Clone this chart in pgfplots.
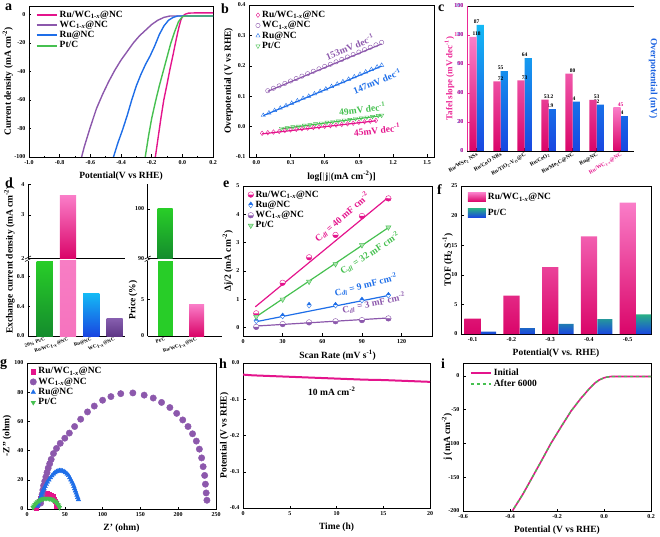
\documentclass[border=0pt]{standalone}
\usepackage{pgfplots}
\pgfplotsset{compat=1.18}
\usepackage{fontspec}
\setmainfont{Liberation Serif}
\usetikzlibrary{plotmarks}
\definecolor{mag}{RGB}{228,20,140}
\definecolor{purp}{RGB}{140,88,172}
\definecolor{blu}{RGB}{30,110,232}
\definecolor{grn}{RGB}{70,192,80}
\definecolor{pinkL}{RGB}{250,125,200}
\definecolor{pinkD}{RGB}{218,5,105}
\definecolor{pinkM}{RGB}{246,115,190}
\definecolor{cyanL}{RGB}{20,185,245}
\definecolor{blueD}{RGB}{25,70,225}
\definecolor{greenL}{RGB}{40,205,40}
\definecolor{greenD}{RGB}{20,140,45}
\definecolor{tealL}{RGB}{40,175,135}
\definecolor{purpL}{RGB}{135,95,175}
\definecolor{purpD}{RGB}{95,55,135}
\definecolor{cpink}{RGB}{235,40,150}
\definecolor{cblue}{RGB}{30,100,225}
\newcommand{\WC}{WC\textsubscript{1-\textit{x}}@NC}
\newcommand{\tl}{\bfseries\fontsize{6}{7}\selectfont}
\newcommand{\lb}{\bfseries\fontsize{9.5}{11}\selectfont}
\newcommand{\lgf}{\bfseries\fontsize{9.5}{10.5}\selectfont}
\pgfplotsset{
 base/.style={scale only axis, anchor=north west,
  axis line style={line width=0.7pt}, tick style={line width=0.5pt, black},
  tick align=inside, major tick length=2.5pt, minor tick length=1.4pt,
  /pgf/number format/assume math mode=true,
  tick label style={font=\tl},
  label style={font=\lb},
  xtick pos=bottom, ytick pos=left,
  legend cell align=left,
  legend style={draw=none, fill=none, font=\lgf, row sep=-1.5pt, inner sep=1pt},
 },
 oned/.style={/pgf/number format/.cd, fixed, fixed zerofill, precision=1},
 ylab/.style={ylabel style={at={(axis description cs:#1,0.5)}, anchor=center}},
}
\begin{document}
\begin{tikzpicture}
\path[use as bounding box] (0pt,0pt) rectangle (660pt,536pt);
% ---------------- a
\begin{axis}[base, at={(29pt,530pt)}, width=184pt, height=151pt,
 xmin=-1, xmax=0.2, ymin=-100, ymax=6,
 xtick={-1,-0.8,-0.6,-0.4,-0.2,0,0.2}, ytick={-100,-80,-60,-40,-20,0},
 xticklabel style={oned}, minor x tick num=1, minor y tick num=1,
 xlabel={Potential(V vs RHE)}, ylabel={Current density (mA cm\textsuperscript{-2})},
 ylab=-0.115,
 legend style={at={(0.03,0.99)}, anchor=north west},
 legend image code/.code={\draw[#1, line width=2pt] (0pt,0pt) -- (20pt,0pt);},
 every axis plot/.append style={line width=1.4pt}]
\addplot[mag] coordinates {(0.2,1.2)(0.1,1.2)(0.04,1)(0.02,0.3)(0.01,-0.5)(0,-1.5)(-0.01,-4)(-0.02,-8)(-0.03,-12.5)(-0.045,-20)(-0.06,-28)(-0.08,-38)(-0.10,-49)(-0.121,-60)(-0.14,-73)(-0.16,-88)(-0.176,-100)};
\addlegendentry{Ru/\WC}
\addplot[purp] coordinates {(0.2,-1)(-0.08,-1)(-0.12,-2)(-0.16,-4)(-0.20,-7)(-0.24,-11)(-0.28,-15)(-0.32,-20)(-0.36,-26)(-0.40,-32)(-0.44,-39)(-0.48,-47)(-0.52,-56)(-0.56,-66)(-0.60,-79)(-0.64,-93)(-0.657,-100)};
\addlegendentry{\WC}
\addplot[blu] coordinates {(0.2,-1)(-0.03,-1)(-0.06,-2)(-0.09,-4)(-0.12,-8)(-0.15,-14)(-0.18,-22)(-0.21,-29)(-0.24,-35)(-0.27,-42)(-0.30,-50)(-0.33,-60)(-0.36,-71)(-0.39,-81)(-0.42,-90)(-0.449,-100)};
\addlegendentry{Ru@NC}
\addplot[grn] coordinates {(0.2,-1)(0.02,-1)(0,-1.5)(-0.025,-5)(-0.05,-12)(-0.075,-20)(-0.10,-30)(-0.125,-40)(-0.15,-50)(-0.175,-61)(-0.20,-73)(-0.22,-85)(-0.242,-100)};
\addlegendentry{Pt/C}
\end{axis}
% ---------------- b
\begin{axis}[base, at={(249pt,531pt)}, width=185pt, height=152pt,
 xmin=-0.065, xmax=1.56, ymin=-0.1, ymax=0.4,
 xtick={0,0.3,0.6,0.9,1.2,1.5}, ytick={-0.1,0,0.1,0.2,0.3,0.4},
 xticklabel style={oned}, yticklabel style={oned},
 xlabel={log[$|$j$|$(mA cm\textsuperscript{-2})]}, ylabel={Overpotential (V vs RHE)},
 ylab=-0.11,
 legend style={at={(0.03,0.98)}, anchor=north west}]
\addplot[only marks, mark=diamond, mag, mark size=2.3pt] coordinates {(0.05,-0.022)(0.10,-0.020)(0.15,-0.018)(0.20,-0.016)(0.25,-0.013)(0.30,-0.011)(0.35,-0.009)(0.40,-0.007)(0.45,-0.005)(0.50,-0.003)(0.55,-0.001)(0.60,0.001)(0.65,0.003)(0.70,0.005)(0.75,0.007)(0.80,0.009)(0.85,0.011)(0.90,0.014)(0.95,0.016)(1.00,0.018)(1.05,0.020)};
\addlegendentry{Ru/\WC}
\addplot[only marks, mark=o, purp, mark size=2.2pt] coordinates {(0.10,0.118)(0.15,0.126)(0.20,0.134)(0.25,0.142)(0.30,0.150)(0.35,0.158)(0.40,0.166)(0.45,0.174)(0.50,0.182)(0.55,0.190)(0.60,0.198)(0.65,0.205)(0.70,0.213)(0.75,0.221)(0.80,0.229)(0.85,0.237)(0.90,0.245)(0.95,0.253)(1.00,0.261)(1.05,0.269)(1.10,0.277)};
\addlegendentry{\WC}
\addplot[only marks, mark=triangle, blu, mark size=2.4pt] coordinates {(0.06,0.037)(0.11,0.045)(0.16,0.053)(0.21,0.061)(0.26,0.069)(0.31,0.077)(0.36,0.085)(0.41,0.093)(0.46,0.100)(0.51,0.108)(0.56,0.116)(0.61,0.124)(0.66,0.132)(0.71,0.140)(0.76,0.148)(0.81,0.156)(0.86,0.164)(0.91,0.172)(0.96,0.180)(1.01,0.188)(1.06,0.196)(1.10,0.202)};
\addlegendentry{Ru@NC}
\addplot[only marks, mark=triangle, mark options={rotate=180}, grn, mark size=2.4pt] coordinates {(0.22,-0.006)(0.27,-0.004)(0.32,-0.001)(0.37,0.001)(0.42,0.004)(0.47,0.006)(0.52,0.009)(0.57,0.011)(0.62,0.014)(0.67,0.016)(0.72,0.018)(0.77,0.021)(0.82,0.023)(0.87,0.026)(0.92,0.028)(0.97,0.031)(1.02,0.033)(1.07,0.036)(1.10,0.037)};
\addlegendentry{Pt/C}
\addplot[mag, line width=1.2pt, forget plot] coordinates {(0.05,-0.024)(1.05,0.019)};
\addplot[purp, line width=1.2pt, forget plot] coordinates {(0.10,0.116)(1.10,0.272)};
\addplot[blu, line width=1.2pt, forget plot] coordinates {(0.06,0.036)(1.10,0.199)};
\addplot[grn, line width=1.2pt, forget plot] coordinates {(0.22,-0.007)(1.10,0.036)};
\node[purp, rotate=22, font=\lgf] at (axis cs:0.82,0.262) {153mV dec\textsuperscript{-1}};
\node[blu, rotate=22, font=\lgf] at (axis cs:1.06,0.150) {147mV dec\textsuperscript{-1}};
\node[grn, rotate=7, font=\lgf] at (axis cs:0.93,0.058) {49mV dec\textsuperscript{-1}};
\node[mag, rotate=6, font=\lgf] at (axis cs:1.06,-0.010) {45mV dec\textsuperscript{-1}};
\end{axis}
% ---------------- c (right axis first, so the left-axis labels lie on top)
\begin{axis}[base, at={(467pt,530pt)}, width=167pt, height=145pt,
 xmin=-0.4, xmax=6.56, ymin=0, ymax=100, ytick={0,20,40,60,80,100},
 axis x line=none, axis y line*=right, y axis line style={cblue}, yticklabel style={cblue},
 ytick style={cblue},
 ylabel style={cblue, at={(axis description cs:1.115,0.5)}, rotate=180, anchor=center}, ylabel={Overpotential (mV)}]
\addplot[ybar, bar width=0.3, bar shift=0.15, draw=none, top color=cyanL, bottom color=blueD,
 nodes near coords, point meta=explicit symbolic, every node near coord/.append style={font=\bfseries\fontsize{5.5}{6}\selectfont, text=black, inner sep=1pt}]
 coordinates {(0,87)[87] (1,55)[55] (2,64)[64] (3,28.9)[28.9] (4,34)[34] (5,32)[32] (6,24)[24]};
\end{axis}
\begin{axis}[base, at={(467pt,530pt)}, width=167pt, height=145pt,
 xmin=-0.4, xmax=6.56, ymin=0, ymax=150, ytick={0,30,60,90,120,150},
 axis x line*=box, axis y line*=left,
 xtick={0,...,6},
 xticklabels={Ru/WSe\textsubscript{2} NSs, Ru/CoO NRs, Ru/TiO\textsubscript{2}-V\textsubscript{O}@C, Ru/CeO\textsubscript{2}, Ru/Mo\textsubscript{2}C@NC, Ru@NC, {\color{mag}Ru/\WC}},
 xticklabel style={rotate=30, anchor=north east, font=\bfseries\fontsize{5.5}{6}\selectfont, inner sep=1pt},
 y axis line style={cpink}, yticklabel style={cpink},
 ylabel style={cpink, font=\bfseries\fontsize{9}{10}\selectfont, at={(axis description cs:-0.105,0.5)}, anchor=center},
 ytick style={cpink},
 ylabel={Tafel slope (mV dec\textsuperscript{-1})}]
\addplot[ybar, bar width=0.3, bar shift=-0.15, draw=none, top color=pinkL, bottom color=pinkD,
 nodes near coords, point meta=explicit symbolic, every node near coord/.append style={font=\bfseries\fontsize{5.5}{6}\selectfont, text=black, inner sep=1pt}]
 coordinates {(0,118)[118] (1,72)[72] (2,73)[73] (3,53.2)[53.2] (4,80)[80] (5,53)[53]};
\addplot[ybar, bar width=0.3, bar shift=-0.15, draw=none, top color=pinkL, bottom color=pinkD,
 nodes near coords, point meta=explicit symbolic, every node near coord/.append style={font=\bfseries\fontsize{5.5}{6}\selectfont, text=mag, inner sep=1pt}]
 coordinates {(6,45)[45]};
\end{axis}
% ---------------- d (left, lower)
\begin{axis}[base, at={(28pt,275pt)}, width=97pt, height=75pt,
 axis x line*=bottom, axis y line*=left,
 xmin=-0.72, xmax=3.45, ymin=0, ymax=1.01, ytick={0,0.4,0.8}, yticklabel style={oned},
 xtick={0,1,2,3}, xticklabels={20\% Pt/C, Ru/\WC, Ru@NC, \WC},
 xticklabel style={rotate=20, anchor=north east, font=\bfseries\fontsize{5}{5.5}\selectfont, inner sep=1pt},
 x tick style={draw=none}]
\addplot[ybar, bar width=0.69, bar shift=0, draw=none, top color=greenL, bottom color=greenD] coordinates {(0,1.0)};
\addplot[ybar, bar width=0.69, bar shift=0, draw=none, top color=pinkL!80, bottom color=pinkM] coordinates {(1,3.6)};
\addplot[ybar, bar width=0.69, bar shift=0, draw=none, top color=cyanL, bottom color=blueD] coordinates {(2,0.57)};
\addplot[ybar, bar width=0.69, bar shift=0, draw=none, top color=purpL, bottom color=purpD] coordinates {(3,0.24)};
\end{axis}
% d (left, upper): log-scaled segment 2..4
\begin{axis}[base, at={(28pt,351.7pt)}, width=97pt, height=74pt,
 axis x line*=top, axis y line*=left, xtick=\empty,
 xmin=-0.72, xmax=3.45, ymin=0.30103, ymax=0.60206, ytick={0.30103,0.47712,0.60206}, yticklabels={2,3,4},
 y filter/.expression={log10(y)}]
\addplot[ybar, bar width=0.69, bar shift=0, draw=none, top color=pinkL, bottom color=pinkD] coordinates {(1,3.6)};
\end{axis}
% d (right, lower)
\begin{axis}[base, at={(147.7pt,275pt)}, width=74pt, height=75pt,
 axis x line*=bottom, axis y line*=left,
 xmin=-0.555, xmax=1.8, ymin=0, ymax=10.2, ytick={0,5},
 xtick={0,1}, xticklabels={Pt/C, Ru/\WC},
 xticklabel style={rotate=20, anchor=north east, font=\bfseries\fontsize{5}{5.5}\selectfont, inner sep=1pt},
 x tick style={draw=none}]
\addplot[ybar, bar width=0.48, bar shift=0, draw=none, fill=greenL] coordinates {(0,100)};
\addplot[ybar, bar width=0.48, bar shift=0, draw=none, top color=pinkL, bottom color=pinkD] coordinates {(1,4.3)};
\end{axis}
% d (right, upper)
\begin{axis}[base, at={(147.7pt,351.7pt)}, width=74pt, height=74pt,
 axis x line*=top, axis y line*=left, xtick=\empty,
 xmin=-0.555, xmax=1.8, ymin=0, ymax=15, ytick={0,10}, yticklabels={90,100},
 y filter/.expression={y-90}]
\addplot[ybar, bar width=0.48, bar shift=0, draw=none, top color=greenL, bottom color=greenD] coordinates {(0,100)};
\end{axis}
\draw[line width=0.6pt] (25pt,274.5pt)--(31pt,277.5pt) (25pt,277pt)--(31pt,280pt);
\draw[line width=0.6pt] (144.7pt,274.5pt)--(150.7pt,277.5pt) (144.7pt,277pt)--(150.7pt,280pt);
\node[rotate=90, font=\lb] at (9.5pt,276pt) {Exchange current density (mA cm\textsuperscript{-2})};
\node[rotate=90, font=\lb] at (133pt,236pt) {Price (\%)};
% ---------------- e
\begin{axis}[base, at={(243pt,350pt)}, width=189pt, height=150pt,
 xmin=0, xmax=143, ymin=-0.3, ymax=5, xtick={0,30,60,90,120}, ytick={0,1,2,3,4,5},
 xlabel={Scan Rate (mV s\textsuperscript{-1})}, ylabel={Δj/2 (mA cm\textsuperscript{-2})},
 ylab=-0.08,
 legend style={at={(0.02,0.99)}, anchor=north west}]
\addplot[only marks, mark=halfcircle*, mark size=2.8pt, mark options={draw=mag, fill=white}, mark color=mag] coordinates {(10,0.5)(30,1.58)(50,2.48)(70,3.27)(90,3.94)(110,4.56)};
\addlegendentry{Ru/\WC}
\addplot[only marks, mark=halfdiamond*, mark size=3pt, mark options={draw=blu, fill=white}, mark color=blu] coordinates {(10,0.24)(30,0.41)(50,0.79)(70,0.79)(90,0.97)(110,1.14)};
\addlegendentry{Ru@NC}
\addplot[only marks, mark=halfcircle*, mark size=2.8pt, mark options={draw=purp, fill=white}, mark color=purp] coordinates {(10,0.02)(30,0.12)(50,0.18)(70,0.22)(90,0.26)(110,0.32)};
\addlegendentry{\WC}
\addplot[only marks, mark=triangle*, mark size=3pt, mark options={rotate=180, draw=grn, fill=grn!45}] coordinates {(10,0.38)(30,0.99)(50,1.62)(70,2.24)(90,2.91)(110,3.54)};
\addlegendentry{Pt/C}
\addplot[mag, line width=1.2pt, forget plot] coordinates {(9.3,0.73)(111,4.64)};
\addplot[grn, line width=1.2pt, forget plot] coordinates {(9.3,0.36)(111,3.56)};
\addplot[blu, line width=1.2pt, forget plot] coordinates {(9.3,0.2)(111,1.14)};
\addplot[purp, line width=1.2pt, forget plot] coordinates {(9.3,0.05)(111,0.34)};
\node[mag, rotate=41, font=\lgf] at (axis cs:75,3.9) {C\textsubscript{\textit{dl}} = 40 mF cm\textsuperscript{-2}};
\node[grn, rotate=33, font=\lgf] at (axis cs:96,2.62) {C\textsubscript{\textit{dl}} = 32 mF cm\textsuperscript{-2}};
\node[blu, rotate=14, font=\lgf] at (axis cs:93,1.5) {C\textsubscript{\textit{dl}} = 9 mF cm\textsuperscript{-2}};
\node[purp, rotate=12, font=\lgf] at (axis cs:99,0.86) {C\textsubscript{\textit{dl}} = 3 mF cm\textsuperscript{-2}};
\end{axis}
% ---------------- f
\begin{axis}[base, at={(461pt,350pt)}, width=190pt, height=148pt,
 xmin=-0.3, xmax=4.6, ymin=0, ymax=25, ytick={0,5,10,15,20,25},
 xtick={0,...,4}, xticklabels={-0.1,-0.2,-0.3,-0.4,-0.5},
 xlabel={Potential(V vs. RHE)}, ylabel={TOF (H\textsubscript{2} S\textsuperscript{-1})},
 ylab=-0.07,
 legend style={at={(0.03,0.97)}, anchor=north west, row sep=4pt},
 legend image code/.code={\fill[#1] (0pt,-4pt) rectangle (18pt,5pt);}]
\addplot[ybar, bar width=0.42, bar shift=0, draw=none, top color=pinkL, bottom color=pinkD] coordinates {(0,2.6)(1,6.5)(2,11.3)(3,16.5)(4,22.2)};
\addlegendentry{Ru/\WC}
\addplot[ybar, bar width=0.39, bar shift=0.41, draw=none, top color=tealL, bottom color=blueD] coordinates {(0,0.4)(1,1.0)(2,1.7)(3,2.5)(4,3.3)};
\addlegendentry{Pt/C}
\end{axis}
% ---------------- g
\begin{axis}[base, at={(27pt,173pt)}, width=189pt, height=146pt,
 xmin=0, xmax=250, ymin=0, ymax=100, xtick={0,50,100,150,200,250}, ytick={0,20,40,60,80,100},
 xlabel={Z' (ohm)}, ylabel={-Z'' (ohm)},
 ylab=-0.105,
 legend style={at={(0.01,0.99)}, anchor=north west}]
\addplot[only marks, mark=square*, mark size=2.2pt, mag] coordinates {(12,1)(13,2.5)(14.5,4)(16,5.5)(18,7)(20,8.2)(22,9.2)(24.5,10)(27,10.4)(29.5,10.2)(32,9.5)(34,8.3)(36,6.8)(37.5,5.2)(38.5,3.6)(39.5,2)};
\addlegendentry{Ru/\WC}
\addplot[only marks, mark=*, mark size=3.2pt, purp] coordinates {(18,4)(19,7)(20,10)(21,13)(22,16)(23.5,19)(25,22)(26.5,25)(28,28)(30,31)(32,34)(35,38)(39,41.5)(44,45)(50,48.5)(56,52)(63,56.5)(71,61.5)(80,66.5)(89,70.5)(100,74.5)(111,77)(124,79)(140,79.5)(155,78)(167,76)(178,73)(189,69.5)(198,65.5)(206,61)(213,56.5)(219,51.5)(224,46.5)(228,41)(231,35)(233,29)(235,23)(236,17)(237,11)(238,6)};
\addlegendentry{\WC}
\addplot[only marks, mark=triangle*, mark size=2.6pt, blu] coordinates {(14,2)(15,3.5)(16,5)(17,6.5)(18,8)(19,9.5)(20,11)(21,12.5)(22.5,14)(24,15.5)(25.5,17)(27,18.5)(29,20)(31,21.5)(33,22.8)(35,24)(37,25)(39,25.6)(41,26)(43,26.3)(45,26.3)(47,26)(49,25.6)(51,25)(53,24)(55,23)(56.5,21.5)(58,20)(59.5,18.5)(61,17)(62,15.5)(63,14)(64,12.5)(65,11)(66,9.5)(67,8)(68,6.5)};
\addlegendentry{Ru@NC}
\addplot[only marks, mark=triangle*, mark size=2.6pt, mark options={rotate=180}, grn] coordinates {(8,1)(9,2)(10.5,3)(12,4)(14,4.8)(16,5.6)(18,6.2)(20,6.7)(22,7)(24,7.2)(26,7.3)(28,7.2)(30,7)(32,6.7)(34,6.2)(36,5.6)(38,4.8)(39.5,4)(41,3)(42,2)(43,1)};
\addlegendentry{Pt/C}
\end{axis}
% ---------------- h
\begin{axis}[base, at={(243pt,173pt)}, width=187pt, height=145pt,
 xmin=0, xmax=20, ymin=-0.4, ymax=0, xtick={0,5,10,15,20}, ytick={-0.4,-0.3,-0.2,-0.1,0},
 yticklabel style={oned},
 xlabel={Time (h)}, ylabel={Potential (V vs RHE)},
 ylab=-0.1]
\addplot[mag, line width=2pt] coordinates {(0,-0.032)(1,-0.034)(3,-0.036)(5,-0.038)(7,-0.040)(9,-0.042)(11,-0.044)(13,-0.046)(15,-0.047)(17,-0.049)(19,-0.051)(20,-0.052)};
\node[font=\lgf] at (axis cs:9.5,-0.078) {10 mA cm\textsuperscript{-2}};
\end{axis}
% ---------------- i
\begin{axis}[base, at={(463pt,173pt)}, width=188pt, height=148pt,
 xmin=-0.6, xmax=0.2, ymin=-200, ymax=19, xtick={-0.6,-0.4,-0.2,0,0.2}, ytick={-200,-150,-100,-50,0},
 xticklabel style={oned},
 xlabel={Potential (V vs RHE)}, ylabel={j (mA cm\textsuperscript{-2})},
 ylab=-0.085,
 legend style={at={(0.03,0.98)}, anchor=north west},
 legend image code/.code={\draw[#1, line width=2pt] (0pt,0pt) -- (20pt,0pt);}]
\addplot[mag, line width=1.6pt] coordinates {(0.2,-1)(0.1,-1)(0.03,-1)(0.01,-2)(0,-3)(-0.02,-6)(-0.04,-11)(-0.06,-18)(-0.08,-26)(-0.10,-34)(-0.14,-52)(-0.18,-74)(-0.226,-100)(-0.265,-125)(-0.305,-150)(-0.345,-175)(-0.39,-200)};
\addlegendentry{Initial}
\addplot[grn, line width=1.4pt, dashed] coordinates {(0.2,-1)(0.1,-1)(0.03,-1)(0.01,-2)(0,-3)(-0.02,-6)(-0.04,-11)(-0.06,-18)(-0.08,-26)(-0.10,-34)(-0.14,-52)(-0.18,-74)(-0.226,-100)(-0.265,-125)(-0.305,-150)(-0.345,-175)(-0.391,-200)};
\addlegendentry{After 6000}
\end{axis}
% ---------------- letters
\begin{scope}[every node/.style={anchor=north west, inner sep=0pt, font=\bfseries\fontsize{14}{14}\selectfont}]
\node at (5pt,532pt) {a};
\node at (221pt,532pt) {b};
\node at (438pt,531pt) {c};
\node at (5pt,358pt) {d};
\node at (223pt,355pt) {e};
\node at (437pt,352pt) {f};
\node at (0pt,177pt) {g};
\node at (219pt,177pt) {h};
\node at (441pt,177pt) {i};
\end{scope}
\end{tikzpicture}
\end{document}
